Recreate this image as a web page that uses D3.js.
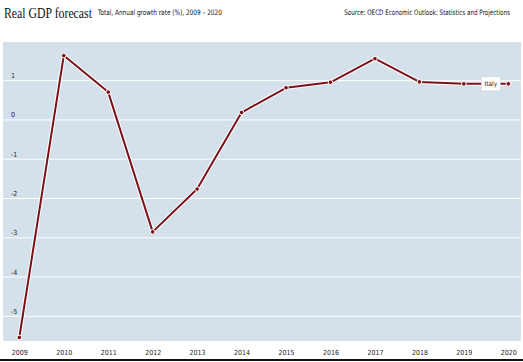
<!DOCTYPE html>
<html>
<head>
<meta charset="utf-8">
<script src="https://cdn.jsdelivr.net/npm/d3@7"></script>
<style>
  body { margin: 0; background: #fff; }
  svg { display: block; }
</style>
</head>
<body>
<div id="chart"></div>
<script>
const years = ["2009", "2010", "2011", "2012", "2013", "2014", "2015", "2016", "2017", "2018", "2019", "2020"];
const italy = [-5.54, 1.64, 0.71, -2.85, -1.76, 0.19, 0.82, 0.96, 1.56, 0.97, 0.92, 0.92];
const yTicks = [1, 0, -1, -2, -3, -4, -5];
const seriesName = "Italy";

const width = 523, height = 362;
const svg = d3.select("#chart").append("svg")
  .attr("width", width)
  .attr("height", height);

const condensed = "'DejaVu Sans Condensed', 'Liberation Sans Narrow', sans-serif";

// header texts, squeezed horizontally to the reference widths
function header(txt, x0, y0, font, size, target, anchor) {
  const t = svg.append("text")
    .attr("text-anchor", anchor)
    .style("font-family", font)
    .style("font-size", size + "px")
    .style("fill", "#111")
    .text(txt);
  const w = t.node().getComputedTextLength();
  const sx = Math.min(1, target / w);
  t.attr("transform", `translate(${x0},${y0}) scale(${sx},1)`);
  return t;
}
header("Real GDP forecast", 4, 18, "'Liberation Serif', serif", 15, 88, "start");
header("Total, Annual growth rate (%), 2009 – 2020", 98, 15, condensed, 7.5, 124, "start");
header("Source: OECD Economic Outlook: Statistics and Projections", 510, 15, condensed, 7.5, 166, "end");

// plot background
const bg = { x0: 3, x1: 521, y0: 42, y1: 341 };
svg.append("rect")
  .attr("x", bg.x0).attr("y", bg.y0)
  .attr("width", bg.x1 - bg.x0).attr("height", bg.y1 - bg.y0)
  .attr("fill", "#d4e1ea");

const x = d3.scalePoint().domain(years).range([19.3, 508.3]);
const y = d3.scaleLinear().domain([-5, 1]).range([316.3, 80.7]);

// gridlines + y labels
const grid = svg.append("g");
grid.selectAll("line").data(yTicks).join("line")
  .attr("x1", bg.x0).attr("x2", bg.x1)
  .attr("y1", d => y(d)).attr("y2", d => y(d))
  .attr("stroke", "#fff").attr("stroke-width", 1);

grid.selectAll("text").data(yTicks).join("text")
  .attr("x", 11).attr("y", d => y(d) - 2.5)
  .style("font-family", condensed)
  .style("font-size", "7px")
  .style("fill", "#222")
  .text(d => d);

// x axis
const xAxis = svg.append("g")
  .attr("transform", `translate(0,${bg.y1})`)
  .call(d3.axisBottom(x).tickSize(0).tickPadding(9));
xAxis.select(".domain").remove();
xAxis.selectAll("text")
  .style("font-family", condensed)
  .style("font-size", "7px")
  .style("fill", "#222");

svg.append("line")
  .attr("x1", 0).attr("x2", width)
  .attr("y1", 360).attr("y2", 360)
  .attr("stroke", "#111").attr("stroke-width", 2);

// series
const pts = years.map((yr, i) => ({ year: yr, value: italy[i] }));
const line = d3.line().x(d => x(d.year)).y(d => y(d.value));

svg.append("path").datum(pts)
  .attr("d", line)
  .attr("fill", "none")
  .attr("stroke", "#fff")
  .attr("stroke-width", 4)
  .attr("stroke-linejoin", "round");

svg.append("path").datum(pts)
  .attr("d", line)
  .attr("fill", "none")
  .attr("stroke", "#7a1018")
  .attr("stroke-width", 2)
  .attr("stroke-linejoin", "round");

svg.append("g").selectAll("circle").data(pts).join("circle")
  .attr("cx", d => x(d.year))
  .attr("cy", d => y(d.value))
  .attr("r", 2.3)
  .attr("fill", "#7a1018")
  .attr("stroke", "#fff")
  .attr("stroke-width", 1);

// series label
const last = pts[pts.length - 1];
const lx = x(last.year) - 27, ly = y(last.value);
svg.append("rect")
  .attr("x", lx).attr("y", ly - 7)
  .attr("width", 19).attr("height", 14)
  .attr("fill", "#fff")
  .attr("stroke", "#c8d4dc")
  .attr("stroke-width", 0.5);
svg.append("text")
  .attr("x", lx + 9.5).attr("y", ly + 2.5)
  .attr("text-anchor", "middle")
  .style("font-family", condensed)
  .style("font-size", "6.5px")
  .style("fill", "#222")
  .text(seriesName);
</script>
</body>
</html>
